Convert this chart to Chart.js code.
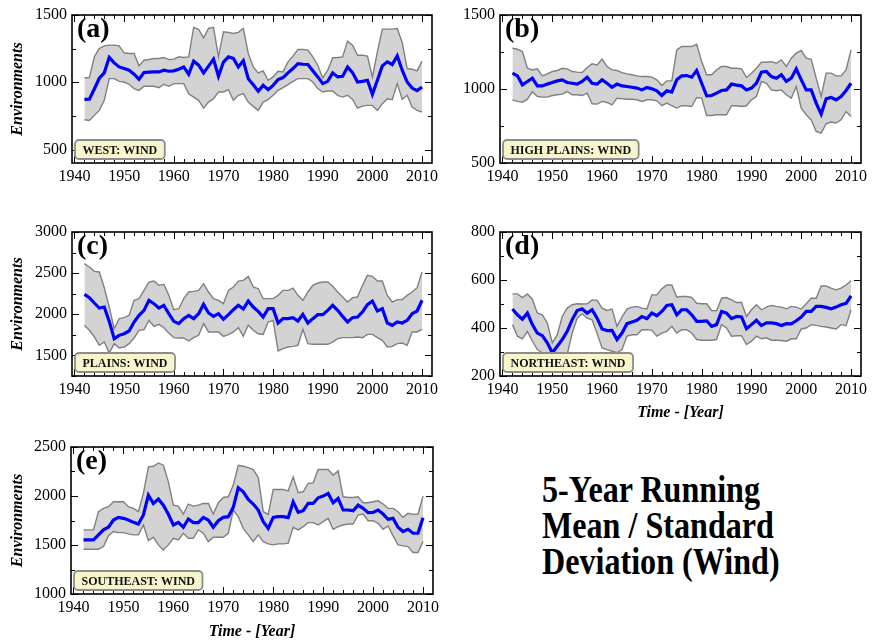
<!DOCTYPE html>
<html>
<head>
<meta charset="utf-8">
<script src="https://cdn.jsdelivr.net/npm/chart.js@4/dist/chart.umd.min.js"></script>
<style>
  html, body { margin: 0; padding: 0; background: #fff; }
  body { width: 877px; height: 640px; overflow: hidden; position: relative; }
  .panel { position: absolute; }
  #title {
    position: absolute; left: 542px; top: 471px;
    font: bold 38px "Liberation Serif", "Times New Roman", serif;
    line-height: 36px; white-space: nowrap; color: #000;
    transform: scaleX(0.845); transform-origin: left top;
  }
</style>
</head>
<body>
<div id="title">5-Year Running<br>Mean / Standard<br>Deviation (Wind)</div>
<script>
// --- Data ---
const years = [
  1942, 1943, 1944, 1945, 1946, 1947, 1948, 1949,
  1950, 1951, 1952, 1953, 1954, 1955, 1956, 1957, 1958, 1959,
  1960, 1961, 1962, 1963, 1964, 1965, 1966, 1967, 1968, 1969,
  1970, 1971, 1972, 1973, 1974, 1975, 1976, 1977, 1978, 1979,
  1980, 1981, 1982, 1983, 1984, 1985, 1986, 1987, 1988, 1989,
  1990, 1991, 1992, 1993, 1994, 1995, 1996, 1997, 1998, 1999,
  2000, 2001, 2002, 2003, 2004, 2005, 2006, 2007, 2008, 2009, 2010
];
const xTicks = [1940, 1950, 1960, 1970, 1980, 1990, 2000, 2010];

// (a) West
const westMean = [
  873, 875, 950, 1030, 1070, 1185, 1144, 1114,
  1102, 1090, 1060, 1022, 1072, 1075, 1077, 1077, 1090, 1082,
  1085, 1097, 1114, 1060, 1157, 1127, 1070, 1120, 1172, 1045,
  1150, 1189, 1177, 1114, 1160, 1027, 982, 933, 977, 945,
  977, 1020, 1035, 1070, 1102, 1139, 1134, 1132, 1085, 1040,
  990, 1007, 1070, 1040, 1045, 1114, 1072, 1002, 1007, 1015,
  910, 1015, 1122, 1152, 1132, 1196, 1090, 1002, 957, 938, 965
];
const westUpper = [
  1032, 1035, 1189, 1251, 1271, 1276, 1276, 1271,
  1219, 1214, 1214, 1122, 1164, 1169, 1177, 1177, 1184, 1169,
  1172, 1189, 1184, 1189, 1408, 1393, 1331, 1400, 1408, 1189,
  1376, 1371, 1363, 1371, 1400, 1214, 1114, 1070, 1085, 1015,
  1040, 1082, 1077, 1152, 1194, 1244, 1244, 1239, 1189, 1127,
  1032, 1090, 1182, 1184, 1189, 1306, 1276, 1201, 1201, 1194,
  1040, 1226, 1395, 1395, 1395, 1400, 1296, 1102, 1097, 1085, 1157
];
const westLower = [
  721, 716, 754, 791, 866, 1027, 1027, 1007,
  1002, 985, 953, 940, 970, 970, 970, 960, 985, 970,
  990, 990, 990, 915, 890, 866, 808, 853, 878, 928,
  928, 945, 866, 903, 915, 853, 821, 791, 853, 871,
  903, 940, 960, 982, 1007, 1027, 1027, 1027, 1002, 953,
  928, 935, 935, 903, 890, 903, 873, 808, 823, 828,
  828, 791, 841, 878, 871, 990, 873, 903, 816, 791, 779
];
const westTicks = [500, 1000, 1500];

// (b) High Plains
const highMean = [
  1107, 1089, 1028, 1051, 1073, 1021, 1021, 1033,
  1044, 1055, 1062, 1044, 1039, 1033, 1051, 1080, 1039, 1033,
  1062, 1039, 1012, 1033, 1021, 1017, 1012, 1006, 994, 1010,
  1001, 988, 956, 988, 979, 1062, 1089, 1091, 1080, 1125,
  1039, 954, 956, 972, 990, 994, 1033, 1026, 1021, 994,
  1006, 1039, 1114, 1118, 1084, 1073, 1096, 1051, 1073, 1136,
  1062, 994, 994, 905, 830, 934, 943, 927, 949, 990, 1039
];
const highUpper = [
  1275, 1269, 1253, 1140, 1129, 1136, 1089, 1102,
  1118, 1125, 1140, 1136, 1118, 1114, 1111, 1145, 1170, 1163,
  1201, 1152, 1129, 1125, 1111, 1102, 1096, 1089, 1084, 1084,
  1080, 1062, 1024, 1055, 1055, 1264, 1287, 1287, 1287, 1302,
  1185, 1096, 1096, 1129, 1152, 1152, 1140, 1140, 1136, 1078,
  1107, 1140, 1181, 1181, 1185, 1174, 1197, 1152, 1208, 1242,
  1260, 1208, 1201, 1073, 949, 1107, 1107, 1089, 1089, 1129, 1264
];
const highLower = [
  927, 916, 911, 931, 983, 949, 945, 945,
  956, 961, 965, 983, 961, 961, 956, 972, 900, 898,
  916, 909, 893, 938, 934, 931, 931, 927, 916, 927,
  927, 920, 887, 905, 887, 871, 887, 887, 882, 943,
  938, 821, 821, 826, 826, 826, 887, 887, 882, 887,
  927, 949, 1051, 1039, 994, 988, 994, 961, 938, 1017,
  871, 826, 792, 714, 702, 765, 777, 770, 792, 848, 815
];
const highTicks = [500, 1000, 1500];

// (c) Plains
const plainsMean = [
  2242, 2202, 2137, 2076, 2088, 1914, 1704, 1744,
  1764, 1797, 1906, 1987, 2048, 2170, 2129, 2076, 2109, 2007,
  1914, 1886, 1947, 1987, 1947, 2007, 2121, 2016, 1975, 2007,
  1939, 1995, 2056, 2109, 2064, 2161, 2088, 2036, 1967, 2068,
  2068, 1894, 1947, 1947, 1959, 1918, 1999, 1894, 1947, 1995,
  1995, 2048, 2109, 2048, 1975, 1906, 1959, 1967, 2028, 2117,
  2161, 2040, 2068, 1894, 1866, 1906, 1894, 1926, 2007, 2040, 2170
];
const plainsUpper = [
  2615, 2575, 2522, 2514, 2323, 2088, 1825, 1947,
  1959, 1987, 2170, 2190, 2291, 2392, 2404, 2352, 2364, 2230,
  2056, 2068, 2190, 2271, 2279, 2291, 2372, 2271, 2190, 2170,
  2129, 2291, 2332, 2404, 2412, 2461, 2332, 2311, 2190, 2190,
  2190, 2230, 2291, 2291, 2319, 2230, 2170, 2271, 2352, 2380,
  2392, 2392, 2340, 2271, 2210, 2149, 2202, 2210, 2352, 2473,
  2461, 2404, 2404, 2230, 2149, 2178, 2178, 2230, 2271, 2323, 2514
];
const plainsLower = [
  1866, 1805, 1724, 1623, 1663, 1529, 1643, 1590,
  1602, 1643, 1712, 1805, 1813, 1926, 1854, 1878, 1837, 1773,
  1716, 1712, 1712, 1675, 1716, 1744, 1886, 1785, 1785, 1785,
  1732, 1752, 1785, 1837, 1732, 1866, 1805, 1764, 1756, 1906,
  1926, 1554, 1582, 1602, 1610, 1623, 1817, 1643, 1635, 1635,
  1635, 1635, 1663, 1704, 1716, 1716, 1716, 1724, 1716, 1756,
  1756, 1716, 1683, 1602, 1610, 1643, 1651, 1623, 1785, 1785, 1817
];
const plainsTicks = [1500, 2000, 2500, 3000];

// (d) Northeast
const neMean = [
  479, 455, 437, 462, 414, 379, 368, 338,
  297, 324, 352, 386, 435, 473, 480, 462, 476, 441,
  396, 389, 390, 352, 379, 418, 425, 432, 448, 439,
  462, 451, 469, 494, 497, 455, 476, 476, 455, 428,
  428, 430, 407, 414, 469, 462, 439, 448, 446, 397,
  414, 432, 410, 421, 421, 418, 410, 418, 417, 430,
  446, 469, 469, 490, 490, 486, 480, 487, 497, 503, 534
];
const neUpper = [
  542, 542, 527, 542, 520, 462, 455, 421,
  338, 372, 448, 483, 497, 501, 500, 501, 517, 515,
  483, 473, 479, 407, 446, 479, 487, 490, 483, 479,
  538, 538, 563, 579, 579, 528, 531, 531, 528, 503,
  501, 501, 473, 472, 524, 527, 517, 506, 506, 448,
  476, 497, 476, 487, 494, 490, 487, 480, 490, 487,
  479, 501, 524, 524, 575, 575, 566, 559, 566, 579, 597
];
const neLower = [
  414, 366, 355, 386, 345, 310, 297, 283,
  262, 262, 269, 290, 379, 441, 459, 441, 434, 377,
  317, 310, 303, 297, 310, 366, 372, 372, 393, 393,
  390, 366, 379, 386, 407, 379, 393, 393, 379, 352,
  349, 349, 349, 352, 414, 400, 366, 368, 368, 331,
  345, 366, 355, 359, 349, 349, 348, 345, 355, 355,
  396, 400, 414, 411, 407, 404, 400, 396, 414, 410, 476
];
const neTicks = [200, 400, 600, 800];

// (e) Southeast
const seMean = [
  1552, 1552, 1552, 1603, 1654, 1681, 1755, 1782,
  1772, 1755, 1731, 1714, 1806, 2009, 1924, 1968, 1907, 1813,
  1704, 1731, 1681, 1765, 1728, 1728, 1782, 1755, 1681, 1748,
  1782, 1789, 1884, 2083, 2043, 1965, 1918, 1857, 1738, 1670,
  1782, 1789, 1789, 1779, 1941, 1833, 1850, 1924, 1924, 1982,
  1999, 2026, 1931, 1975, 1857, 1857, 1850, 1907, 1874, 1830,
  1833, 1857, 1816, 1762, 1772, 1681, 1637, 1660, 1620, 1620, 1779
];
const seUpper = [
  1654, 1654, 1654, 1840, 1874, 1891, 1941, 1941,
  1941, 1891, 1874, 1840, 2026, 2297, 2303, 2337, 2314, 2144,
  1907, 1897, 1816, 1918, 1897, 1907, 1924, 1924, 1816, 1931,
  1985, 1992, 2111, 2314, 2303, 2290, 2270, 2188, 1840, 1813,
  2067, 2067, 2067, 2053, 2195, 2033, 2043, 2128, 2134, 2270,
  2270, 2270, 2212, 2256, 1992, 1985, 1985, 1992, 1931, 1931,
  1941, 1951, 1918, 1874, 1874, 1840, 1782, 1823, 1813, 1816, 1999
];
const seLower = [
  1457, 1457, 1457, 1457, 1484, 1593, 1637, 1626,
  1626, 1613, 1603, 1603, 1704, 1545, 1579, 1501, 1450, 1501,
  1569, 1552, 1620, 1569, 1569, 1654, 1620, 1535, 1579, 1579,
  1579, 1620, 1857, 1789, 1670, 1603, 1535, 1603, 1535, 1511,
  1501, 1511, 1511, 1518, 1681, 1654, 1687, 1728, 1728, 1704,
  1738, 1772, 1660, 1687, 1704, 1714, 1714, 1806, 1816, 1748,
  1748, 1721, 1660, 1694, 1593, 1501, 1491, 1484, 1423, 1423, 1535
];
const seTicks = [1000, 1500, 2000, 2500];

const SERIF = '"Liberation Serif", "Times New Roman", serif';

// frame, inward ticks, panel letter and region box
const framePlugin = {
  id: 'frame',
  afterDraw(chart, args, opts) {
    const { ctx, chartArea: a, scales: { x, y } } = chart;
    ctx.save();
    ctx.strokeStyle = '#000';
    ctx.lineWidth = 1;
    ctx.beginPath();
    for (let v = 1940; v <= 2012; v += 2) {
      const px = Math.round(x.getPixelForValue(v)) + 0.5;
      if (px < a.left || px > a.right) continue;
      const len = v % 10 === 0 ? 7 : 4;
      ctx.moveTo(px, a.bottom); ctx.lineTo(px, a.bottom - len);
      ctx.moveTo(px, a.top); ctx.lineTo(px, a.top + len);
    }
    const yt = opts.yTicks;
    const half = (yt[1] - yt[0]) / 2;
    const marks = [];
    yt.forEach(t => { marks.push([t, 7]); marks.push([t - half, 4]); marks.push([t + half, 4]); });
    marks.forEach(([v, len]) => {
      if (v < y.min || v > y.max) return;
      const py = Math.round(y.getPixelForValue(v)) + 0.5;
      ctx.moveTo(a.left, py); ctx.lineTo(a.left + len, py);
      ctx.moveTo(a.right, py); ctx.lineTo(a.right - len, py);
    });
    ctx.stroke();

    ctx.lineWidth = 1.6;
    ctx.strokeRect(a.left, a.top, a.right - a.left, a.bottom - a.top);

    // panel letter
    ctx.fillStyle = '#000';
    ctx.font = 'bold 28px ' + SERIF;
    ctx.textBaseline = 'alphabetic';
    ctx.textAlign = 'left';
    ctx.fillText(opts.letter, a.left + 5, a.top + 22);

    // region label box
    ctx.font = 'bold 12px ' + SERIF;
    const tw = ctx.measureText(opts.label).width;
    const bw = tw + 15, bh = 19;
    const bx = a.left + 3, by = a.bottom - 4 - bh;
    ctx.beginPath();
    ctx.roundRect(bx, by, bw, bh, 4);
    ctx.fillStyle = '#f7f5cb';
    ctx.fill();
    ctx.strokeStyle = '#8c8c8c';
    ctx.lineWidth = 1.8;
    ctx.stroke();
    ctx.fillStyle = '#111';
    ctx.textBaseline = 'middle';
    ctx.fillText(opts.label, bx + 7.5, by + bh / 2 + 1);
    ctx.restore();
  }
};

function makePanel(p) {
  const padTop = 10, padRight = 14;
  const W = p.axisW, H = p.axisH;
  const cw = p.frame.r - p.frame.l + W + padRight;
  const ch = p.frame.b - p.frame.t + padTop + H;
  const div = document.createElement('div');
  div.className = 'panel';
  div.style.left = (p.frame.l - W) + 'px';
  div.style.top = (p.frame.t - padTop) + 'px';
  const canvas = document.createElement('canvas');
  canvas.width = cw; canvas.height = ch;
  div.appendChild(canvas);
  document.body.appendChild(div);

  const tickFont = { family: SERIF, size: 16 };
  const titleFont = { family: SERIF, size: 16, weight: 'bold', style: 'italic' };

  new Chart(canvas, {
    type: 'line',
    data: {
      labels: years,
      datasets: [
        { data: p.mean, borderColor: '#0000ff', borderWidth: 3.2, pointRadius: 0, fill: false },
        { data: p.upper, borderColor: '#808080', borderWidth: 1.4, pointRadius: 0, fill: '+1', backgroundColor: '#d3d3d3' },
        { data: p.lower, borderColor: '#808080', borderWidth: 1.4, pointRadius: 0, fill: false }
      ]
    },
    options: {
      responsive: false,
      animation: false,
      layout: { padding: { top: padTop, right: padRight, left: 0, bottom: 0 } },
      plugins: {
        legend: { display: false },
        tooltip: { enabled: false },
        filler: { drawTime: 'beforeDatasetsDraw' },
        frame: { letter: p.letter, label: p.label, yTicks: p.yTicks }
      },
      scales: {
        x: {
          type: 'linear', min: 1939.5, max: 2012,
          grid: { display: false, drawTicks: false },
          border: { display: false },
          ticks: { font: tickFont, color: '#000', padding: 4, maxRotation: 0, autoSkip: false, callback: v => String(v) },
          afterBuildTicks: s => { s.ticks = xTicks.map(v => ({ value: v })); },
          afterFit: s => { s.height = H; s.paddingLeft = 0; s.paddingRight = 0; },
          title: { display: !!p.xTitle, text: 'Time - [Year]', font: titleFont, color: '#000', padding: { top: 0, bottom: 3 } }
        },
        y: {
          min: p.yMin, max: p.yMax,
          grid: { display: false, drawTicks: false },
          border: { display: false },
          ticks: { font: tickFont, color: '#000', padding: 5, autoSkip: false, callback: v => String(v) },
          afterBuildTicks: s => { s.ticks = p.yTicks.map(v => ({ value: v })); },
          afterFit: s => { s.width = W; s.paddingTop = 0; s.paddingBottom = 0; },
          title: { display: !!p.yTitle, text: 'Environments', font: titleFont, color: '#000', padding: { top: 8, bottom: 0 } }
        }
      }
    },
    plugins: [framePlugin]
  });
}

makePanel({ letter: '(a)', label: 'WEST: WIND', mean: westMean, upper: westUpper, lower: westLower,
  yMin: 400, yMax: 1500, yTicks: westTicks, frame: { l: 72, t: 15, r: 432, b: 163 },
  axisW: 72, axisH: 28, yTitle: true });
makePanel({ letter: '(b)', label: 'HIGH PLAINS: WIND', mean: highMean, upper: highUpper, lower: highLower,
  yMin: 500, yMax: 1500, yTicks: highTicks, frame: { l: 500, t: 15, r: 861, b: 163 },
  axisW: 44, axisH: 28 });
makePanel({ letter: '(c)', label: 'PLAINS: WIND', mean: plainsMean, upper: plainsUpper, lower: plainsLower,
  yMin: 1250, yMax: 3000, yTicks: plainsTicks, frame: { l: 72, t: 232, r: 432, b: 376 },
  axisW: 72, axisH: 28, yTitle: true });
makePanel({ letter: '(d)', label: 'NORTHEAST: WIND', mean: neMean, upper: neUpper, lower: neLower,
  yMin: 200, yMax: 800, yTicks: neTicks, frame: { l: 500, t: 232, r: 861, b: 376 },
  axisW: 44, axisH: 49, xTitle: true });
makePanel({ letter: '(e)', label: 'SOUTHEAST: WIND', mean: seMean, upper: seUpper, lower: seLower,
  yMin: 1000, yMax: 2500, yTicks: seTicks, frame: { l: 71, t: 447, r: 433, b: 594 },
  axisW: 71, axisH: 50, yTitle: true, xTitle: true });
</script>
</body>
</html>
